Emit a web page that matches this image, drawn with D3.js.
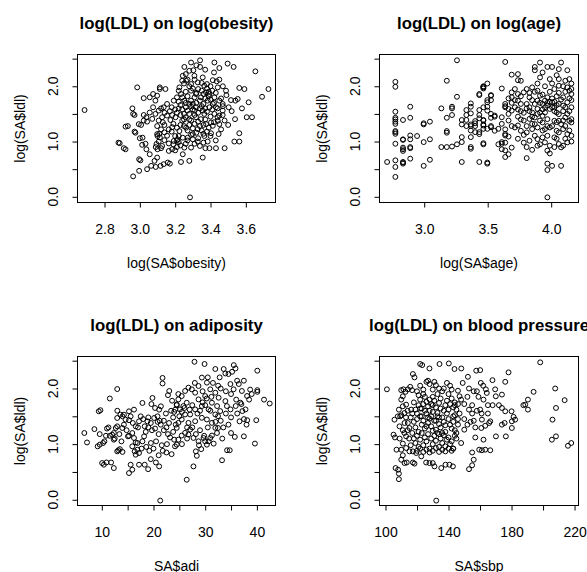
<!DOCTYPE html>
<html><head><meta charset="utf-8">
<script src="https://cdn.jsdelivr.net/npm/d3@7"></script>
<style>
body{margin:0;background:#fff}
svg{display:block}
text{font-family:"Liberation Sans",Arial,Helvetica,sans-serif;fill:#000}
</style>
</head><body>
<svg id="c" width="587" height="572"></svg>
<script>
// ---- data: log(LDL) vs each predictor ----
const obesityPts = [
[2.687,1.57],[2.985,1.98],[2.879,0.98],[2.886,0.97],[2.909,0.88],[2.919,0.86],[2.919,1.27],[2.932,1.28],[2.958,1.60],[2.962,1.50],
[2.97,1.48],[2.962,0.37],[2.996,0.47],[2.996,0.68],[3.003,0.66],[3.022,1.785],[2.97,1.18],[2.975,1.16],[2.994,1.315],[3.007,1.30],
[3.022,1.38],[3.041,1.36],[3.022,1.48],[3.0,1.06],[3.015,1.07],[3.013,0.94],[3.032,0.96],[3.037,0.86],[3.056,0.77],[3.064,0.56],
[3.09,0.54],[3.083,0.65],[3.098,0.71],[3.056,1.80],[3.075,1.86],[3.098,1.83],[3.113,1.98],[3.113,1.95],[3.145,1.95],[3.088,1.74],
[3.075,1.62],[3.056,1.525],[3.037,1.44],[3.07,1.41],[3.088,1.50],[3.107,1.56],[3.135,1.62],[3.154,1.68],[3.192,1.74],[3.18,1.62],
[3.126,1.44],[3.107,1.38],[3.098,1.28],[3.12,1.22],[3.098,1.135],[3.113,1.075],[3.107,1.0],[3.094,0.955],[3.126,0.92],[3.139,1.025],
[3.154,1.105],[3.139,1.165],[3.164,1.22],[3.183,1.26],[3.173,1.39],[3.202,1.44],[3.154,1.47],[3.183,1.48],[3.139,1.30],[3.164,0.965],
[3.192,1.01],[3.183,0.86],[3.164,0.83],[3.158,0.62],[3.17,0.60],[3.135,0.59],[3.117,0.56],[3.041,0.50],
[3.11,1.14],[3.10,1.10],[3.12,0.88],[3.10,0.86],[3.09,0.90],[3.13,1.35],[3.14,1.52],[3.12,1.60],[3.17,1.55],[3.19,1.32],
[3.18,1.18],[3.20,1.10],[3.19,0.95],[3.21,0.90],[3.20,0.84],[3.21,1.02],[3.22,0.99],
[3.252,2.35],[3.29,2.43],[3.341,2.47],[3.341,2.35],[3.303,2.29],[3.422,2.43],[3.45,2.33],[3.497,2.41],[3.531,2.35],[3.654,2.27],
[3.243,2.19],[3.262,2.10],[3.309,2.19],[3.356,2.16],[3.413,2.11],[3.435,2.09],[3.365,2.01],[3.328,2.07],[3.29,2.04],[3.224,1.98],
[3.441,1.98],[3.488,1.92],[3.563,1.97],[3.592,1.95],[3.728,1.95],[3.692,1.81],[3.616,1.71],[3.554,1.77],[3.541,1.74],[3.516,1.75],
[3.469,1.68],[3.45,1.74],[3.422,1.80],[3.394,1.86],[3.375,1.89],[3.413,1.68],[3.431,1.62],[3.469,1.56],[3.503,1.62],[3.578,1.60],
[3.635,1.44],[3.605,1.44],[3.539,1.405],[3.45,1.47],[3.422,1.50],[3.469,1.48],[3.441,1.375],[3.403,1.345],[3.413,1.285],[3.45,1.315],
[3.446,1.135],[3.403,1.15],[3.563,1.15],[3.563,1.0],[3.535,1.0],[3.431,0.88],[3.394,0.88],[3.371,0.88],[3.356,0.71],[3.328,1.0],
[3.29,0.89],[3.252,0.89],[3.28,0.65],[3.233,0.63],[3.284,-0.01],[3.243,0.77],[3.214,1.04],[3.224,1.19],[3.262,1.25],[3.29,1.38],
[3.318,1.44],[3.346,1.405],[3.375,1.315],[3.328,1.225],[3.30,1.135],[3.271,1.07],[3.243,1.07],[3.365,1.10],[3.384,1.0],[3.356,1.56],
[3.318,1.62],[3.28,1.68],[3.252,1.74],[3.233,1.86],[3.29,1.92],[3.318,1.86],[3.346,1.80],[3.384,1.74],[3.394,1.62],[3.365,1.50],
[3.21,1.52],[3.22,1.60],[3.23,1.66],[3.24,1.58],[3.25,1.50],[3.26,1.62],[3.27,1.56],[3.22,1.72],[3.24,1.80],[3.26,1.90],
[3.25,2.05],[3.27,2.12],[3.28,2.00],[3.30,1.96],[3.31,1.80],[3.32,1.70],[3.33,1.95],[3.35,1.92],[3.36,1.86],[3.37,1.78],
[3.38,1.96],[3.39,1.90],[3.36,1.68],[3.34,1.60],[3.33,1.52],[3.31,1.48],[3.30,1.58],[3.29,1.64],[3.28,1.50],[3.26,1.44],
[3.24,1.38],[3.23,1.30],[3.25,1.28],[3.27,1.20],[3.28,1.30],[3.30,1.24],[3.31,1.32],[3.32,1.16],[3.34,1.28],[3.35,1.20],
[3.37,1.40],[3.38,1.54],[3.40,1.76],[3.41,1.92],[3.42,1.70],[3.40,1.45],[3.42,1.35],[3.39,1.25],[3.36,1.14],[3.33,1.06],
[3.30,1.04],[3.26,0.96],[3.23,0.93],[3.22,1.10],[3.21,1.25],[3.20,1.58],[3.21,1.80],[3.22,1.92],[3.24,2.10],[3.31,2.12],
[3.35,2.06],[3.38,2.04],[3.40,2.00],[3.43,1.88],[3.44,1.60],[3.46,1.78],[3.47,1.64],[3.44,1.44],[3.46,1.22],[3.48,1.38],
[3.27,1.82],[3.29,1.74],[3.32,1.88],[3.34,1.74],[3.35,1.64],[3.37,1.60],[3.39,1.82],[3.41,1.58],[3.30,1.68],[3.26,1.70],
[3.23,1.48],[3.25,1.40],[3.28,1.40],[3.31,1.56],[3.33,1.36],[3.36,1.30],[3.38,1.18],[3.29,1.12],[3.27,1.02],[3.31,0.96],
[3.34,0.92],[3.36,0.98],[3.40,1.10],[3.43,1.02],[3.48,0.88],[3.50,1.30],[3.52,1.55],[3.49,1.84],[3.47,2.00],[3.45,2.12],
[3.42,2.25],[3.37,2.30],[3.32,2.38],[3.28,2.28],[3.26,2.22]
];

const agePts = [
[2.708,0.63],
[2.773,2.08],[2.773,1.99],[2.773,1.54],[2.773,1.43],[2.773,1.40],[2.773,1.36],[2.773,1.17],[2.773,1.14],[2.773,0.96],[2.773,0.66],
[2.773,0.54],[2.773,0.36],[2.773,1.32],[2.773,1.19],
[2.833,1.39],[2.833,0.89],[2.833,0.83],[2.833,0.86],[2.833,0.63],[2.833,0.60],[2.833,1.04],[2.833,1.03],[2.833,0.62],
[2.890,1.63],[2.890,1.43],[2.890,1.11],[2.890,1.04],[2.890,0.90],[2.890,0.69],[2.890,0.88],
[2.944,1.10],
[2.996,1.33],[2.996,1.31],[2.996,0.99],[2.996,0.56],
[3.045,1.36],[3.045,1.04],[3.045,0.67],
[3.135,1.60],[3.135,0.90],
[3.178,2.10],[3.178,1.43],[3.178,1.19],[3.178,1.16],[3.178,0.90],
[3.219,1.60],[3.219,1.63],[3.219,0.91],[3.219,1.48],
[3.258,2.47],[3.258,1.81],[3.258,0.95],
[3.296,1.39],[3.296,1.31],[3.296,1.08],[3.296,0.63],[3.296,0.99],
[3.332,1.48],[3.332,1.57],[3.332,1.39],[3.332,1.28],
[3.367,1.69],[3.367,1.63],[3.367,1.51],[3.367,1.20],[3.367,1.08],[3.367,0.90],[3.367,0.87],[3.367,1.28],[3.367,1.31],
[3.401,1.37],[3.401,1.33],[3.401,1.28],[3.401,1.17],
[3.434,1.84],[3.434,1.57],[3.434,1.48],[3.434,1.42],[3.434,1.17],[3.434,0.63],
[3.466,2.00],[3.466,1.96],[3.466,1.39],[3.466,1.31],[3.466,1.23],[3.466,0.95],
[3.497,2.05],[3.497,1.63],[3.497,1.75],[3.497,1.23],[3.497,0.60],
[3.526,1.84],[3.526,1.75],[3.526,1.28],[3.526,1.43],
[3.555,1.45],[3.584,1.23],
[3.611,1.96],[3.611,0.96],[3.611,0.99],
[3.638,2.44],[3.638,1.64],[3.638,1.62],[3.638,1.11],[3.638,0.84],[3.638,0.72],
[3.871,2.35],[3.871,2.29],[3.912,2.43],[3.970,2.35],[4.007,2.35],[4.060,2.31],[4.127,2.29],[4.078,2.43],[3.689,2.21],[3.738,2.22],
[3.738,2.11],[3.761,2.10],[3.912,2.16],[3.989,2.13],[4.060,2.13],[4.111,2.10],[4.143,2.13],[4.060,2.01],[4.127,1.98],[4.143,1.92],
[4.159,1.86],[3.664,1.59],[3.638,1.68],[3.689,1.80],[3.689,1.89],[3.714,1.95],[3.738,1.86],[3.738,1.74],[3.761,1.68],[3.807,1.68],
[3.829,1.62],[3.689,1.56],[3.664,1.50],[3.611,1.44],[3.611,1.32],[3.638,1.22],[3.638,1.135],[3.664,1.09],[3.638,0.98],[3.584,0.95],
[3.611,0.86],[3.689,0.89],[3.664,0.77],[3.807,0.70],[3.714,1.255],[3.738,1.29],[3.784,1.38],[3.829,1.41],[3.761,1.195],[3.807,1.165],
[3.850,1.225],[3.871,1.315],[3.871,1.435],[3.850,1.525],[3.892,1.59],[3.871,1.68],[3.892,1.74],[3.829,1.80],[3.784,1.89],[3.850,1.98],
[3.892,1.92],[3.912,1.83],[3.951,1.74],[3.970,1.80],[4.007,1.71],[3.970,1.65],[3.989,1.59],[4.025,1.62],[4.060,1.68],[4.094,1.65],
[4.127,1.71],[4.159,1.62],[4.043,1.525],[4.060,1.495],[4.111,1.435],[4.143,1.375],[4.159,1.345],[4.159,1.405],[4.078,1.315],[4.060,1.375],
[4.025,1.375],[3.970,1.405],[3.932,1.465],[3.912,1.525],[3.951,1.525],[3.932,1.345],[3.892,1.255],[3.951,1.225],[3.989,1.255],[4.043,1.195],
[4.060,1.165],[4.094,1.225],[4.127,1.135],[4.159,1.105],[4.127,0.985],[4.094,0.925],[4.078,0.895],[4.060,0.955],[4.025,1.075],[3.970,1.105],
[3.932,1.075],[3.892,1.045],[3.871,1.105],[3.829,1.015],[3.892,0.925],[3.951,0.985],[3.989,0.925],[3.970,0.835],[3.989,0.785],[3.970,0.60],
[4.007,0.56],[4.078,0.56],[3.970,0.485],[3.970,-0.01],
[3.466,1.99],[3.466,1.98],[3.434,1.86],[3.526,1.83],[3.497,1.71],[3.466,1.62],[3.497,1.56],[3.526,1.50],[3.555,1.47],[3.466,1.38],
[3.466,1.29],[3.526,1.26],[3.555,1.195],[3.434,1.135],[3.466,0.97],[3.497,0.62],
[3.970,1.70],[4.007,1.78],[4.025,1.72],[4.043,1.66],[4.043,1.82],[4.078,1.76],[4.094,1.80],[4.111,1.62],[4.111,1.90],[4.143,1.78],
[4.143,1.55],[4.127,1.50],[4.094,1.55],[4.025,1.55],[4.007,1.62],[3.989,1.72],[3.951,1.62],[3.932,1.68],[3.932,1.58],[3.912,1.70],
[3.892,1.50],[3.850,1.45],[3.829,1.55],[3.807,1.60],[3.784,1.52],[3.761,1.55],[3.738,1.45],[3.714,1.62],[3.714,1.75],[3.761,1.82],
[3.807,1.95],[3.829,1.88],[3.850,1.75],[3.892,2.05],[3.932,2.25],[3.951,2.00],[4.007,2.05],[4.043,2.20],[4.094,2.00],[4.159,2.05],
[4.159,1.95],[4.159,1.75],[4.143,1.20],[4.111,1.28],[4.094,1.38],[4.043,1.35],[4.007,1.28],[3.970,1.28],[3.932,1.20],[3.912,1.38],
[3.850,1.32],[3.807,1.28],[3.784,1.12],[3.761,1.40],[3.738,1.58],[3.689,1.70],[3.664,1.78],[3.664,1.38],[3.689,1.28],[3.738,1.05],
[3.784,0.98],[3.807,0.90],[3.850,0.85],[3.912,0.95],[4.025,0.90],[4.111,1.05],[4.159,1.00],[4.043,1.05],[3.932,1.85],[3.871,1.90],
[3.989,1.90],[4.025,1.95],[4.060,1.88]
];

const adiPts = [
[6.62,1.20],[7.14,1.03],[8.57,1.27],[9.6,1.18],[9.2,0.96],[9.6,0.99],[10.25,1.02],[10.51,1.05],[9.41,1.59],[9.73,1.61],
[11.55,1.82],[12.98,1.99],[10.06,0.66],[10.4,0.63],[10.9,0.67],[11.8,0.67],[12.33,0.57],[12.0,1.17],[12.33,1.20],[11.55,1.15],
[12.98,1.47],[13.6,1.53],[14.0,1.50],[14.28,1.53],[14.6,1.44],[12.98,1.32],[12.7,1.29],[12.5,1.10],[12.98,0.87],[13.5,0.91],
[13.2,0.89],[12.33,1.08],[13.96,1.29],[14.28,1.35],[15.26,1.59],[15.26,1.43],[15.58,1.50],[16.23,1.62],[17.53,1.50],[17.2,1.41],
[16.56,1.32],[15.9,1.20],[15.26,1.15],[15.06,1.14],[16.23,1.11],[16.56,1.03],[15.9,0.96],[16.88,0.90],[16.36,0.87],[17.2,0.84],
[16.56,0.81],[17.86,1.05],[18.18,1.14],[17.86,1.74],[19.8,1.83],[15.26,0.48],[15.9,0.54],[15.58,0.63],[17.2,0.63],[18.3,0.63],
[18.96,0.55],[19.48,0.73],[20.46,0.67],[21.1,0.60],[21.3,-0.015],[18.83,1.41],[19.48,1.38],[20.13,1.47],[20.78,1.50],[21.1,1.62],
[21.43,1.68],[21.75,2.19],[21.75,2.09],[23.05,1.955],
[19.0,1.30],[19.7,1.25],[20.3,1.28],[20.8,1.40],[21.4,1.35],[22.0,1.42],[22.5,1.30],[23.0,1.38],[22.4,1.55],[23.4,1.60],
[23.8,1.48],[24.0,1.58],[22.0,1.25],[21.0,1.18],[20.5,1.05],[19.5,1.02],[18.6,0.95],[19.2,0.88],[20.0,0.92],[21.6,0.98],
[22.6,1.0],[21.8,0.88],[23.2,1.12],[23.8,1.22],[22.8,1.18],[18.3,1.32],[17.0,1.30],[16.0,1.38],[14.8,1.25],[13.4,1.18],
[18.0,1.45],[19.0,1.48],[13.0,1.6],[11.3,1.30],[10.8,1.15],[11.0,1.28],[14.0,0.86],[13.8,1.05],[16.9,1.02],[17.7,0.92],
[20.3,1.65],[19.6,1.72],[24.3,1.35],[24.5,1.70],[23.6,1.78],[24.8,1.9],[22.8,1.88],[21.2,1.42],[18.5,1.22],
[27.93,2.48],[29.88,2.44],[31.96,2.35],[33.58,2.35],[33.9,2.27],[35.53,2.42],[35.86,2.36],[40.08,2.32],[33.26,0.71],[34.23,0.89],
[34.75,0.89],[39.62,1.01],[37.48,1.14],[35.73,1.13],[36.64,1.41],[38.13,1.43],[39.88,1.43],[41.38,1.80],[42.48,1.73],[40.08,1.97],
[40.08,1.94],[37.48,2.14],[36.5,2.08],[36.18,2.14],[34.88,2.08],[35.5,1.985],[37.1,1.955],[38.1,1.865],[38.5,1.80],[36.8,1.745],
[35.9,1.685],[37.2,1.594],[37.8,1.624],[34.9,1.624],[34.2,1.684],[33.9,1.774],[32.6,1.834],[31.96,1.924],[30.98,1.985],[30.33,2.105],
[29.36,2.196],[28.71,2.045],[28.06,1.924],[27.41,1.985],[26.76,2.015],[26.11,1.955],[25.46,1.864],[24.81,1.804],[24.49,1.714],[25.13,1.624],
[25.78,1.684],[26.43,1.744],[28.71,1.804],[30.0,1.864],[31.3,1.744],[32.3,1.684],[32.9,1.594],[31.96,1.533],[30.66,1.624],[29.36,1.684],
[28.06,1.624],[27.09,1.533],[26.11,1.533],[25.46,1.443],[24.81,1.382],[24.49,1.292],[26.76,1.382],[28.06,1.412],[29.36,1.473],[30.33,1.443],
[31.3,1.382],[31.96,1.292],[32.48,1.503],
[26.43,0.36],[27.73,0.60],[28.38,0.79],[28.19,0.87],[29.23,0.91],[30.33,0.99],[30.66,1.05],[30.98,1.11],[31.3,1.154],[32.28,1.2],
[32.48,1.29],[31.64,1.009],[30.0,1.051],[29.68,1.111],[28.71,1.051],[27.73,1.111],[26.76,1.172],[27.09,1.262],[26.11,1.202],[25.46,1.154],
[24.81,1.081],[24.49,0.99],[24.16,0.96],
[29.0,1.6],[29.5,1.75],[28.5,1.55],[27.5,1.7],[27.0,1.62],[26.0,1.65],[25.5,1.58],[24.2,1.62],[25.0,1.50],[26.5,1.30],
[27.5,1.30],[28.2,1.18],[29.0,1.25],[30.5,1.30],[33.0,1.42],[34.0,1.55],[35.0,1.48],[33.5,1.30],[34.5,1.35],[35.0,1.20],
[36.0,1.80],[37.0,1.72],[35.0,1.90],[34.0,1.95],[33.0,2.00],[32.5,2.05],[31.5,2.10],[30.5,2.20],[28.0,2.10],[29.5,1.95],
[30.0,1.70],[31.0,1.60],[32.0,1.40],[26.5,1.10],[25.5,1.00],[22.5,0.85],[21.0,0.80],[23.5,0.82],[24.0,1.08],[28.8,0.98],
[29.8,1.15],[33.3,1.10],[38.0,1.35],[37.5,1.45],[36.2,1.55],[39.0,1.90],[38.7,1.98],[35.2,2.30],[34.5,2.26],[32.8,2.20],
[31.2,1.85],[30.3,1.82]
];

const sbpPts = [
[100.9,1.985],[105.7,1.44],[105.1,1.17],[107.8,1.50],[106.4,0.57],[108.0,0.54],[108.5,0.47],[108.5,0.37],[110,0.72],[112.1,0.66],
[113.5,0.67],[117.4,0.67],[118.4,0.65],[122.0,2.44],[123.3,2.42],[127.9,2.36],[117.4,2.26],[118.4,2.20],[115.7,2.03],[114.2,1.985],
[112.7,1.94],[111.4,1.985],[110,1.97],[116.9,1.97],[110,1.80],[111,1.86],[109.3,1.50],[112.1,1.56],[116.3,1.62],[113.1,1.71],
[111,1.68],[108.5,1.62],[108.9,1.32],[112.1,1.38],[114.2,1.38],[115.2,1.29],[113.1,1.14],[111,1.01],[113.1,0.93],[115.2,0.87],
[117.4,0.87],[119.5,0.84],[122.7,0.78],[125.8,0.67],[127.9,0.66],[131.1,0.60],[130.0,0.66],[132.2,-0.015],[135.4,0.57],[138.1,0.63],
[140.6,0.63],[142.8,0.60],[134.3,2.44],[140.2,2.45],[143.8,2.35],[148.1,2.36],[152.3,2.21],[157.6,2.32],
[149,2.1],[153,2.0],[146,1.96],[156,1.95],[152,1.85],[148,1.80],[144,1.75],[150,1.72],[155,1.70],[158,1.60],
[153,1.62],[147,1.55],[143,1.50],[150,1.45],[156,1.42],[152,1.35],[146,1.35],[144,1.25],[150,1.26],[157,1.30],
[154,1.40],[155,1.55],[159,1.85],[158,1.95],[145,1.10],[148,1.02],[143,0.92],[142,0.88],[155,0.85],[156,0.72],
[155,0.62],[153,0.55],[157,1.12],
[198.2,2.47],[178.1,2.29],[176,2.12],[167.9,2.15],[160.1,2.33],[194,1.94],[190.4,1.80],[188.7,1.71],[187.5,1.70],[190.4,1.62],
[207.7,2.00],[213.7,1.79],[208.2,1.65],[206,1.44],[205.6,1.08],[208.2,1.14],[215.8,0.97],[217.9,1.02],[173.9,1.89],[169.6,1.985],
[170.0,1.86],[163.7,1.985],[168,1.70],[172,1.70],[173.9,1.65],[176,1.59],[180,1.59],[182.3,1.44],[180.2,1.41],[181.3,1.49],
[180.2,1.29],[173.9,1.35],[175.6,1.38],[176.4,1.14],[170.1,1.14],[165.8,1.38],[166.5,1.41],[163.3,1.33],[161.2,1.44],[160.8,1.29],
[160.1,1.62],[162.2,1.80],[164.3,1.92],[162.2,1.08],[163.3,0.90],[166.5,0.89],[161.2,0.89],[159.5,0.90],[160.5,2.10],[162,2.05],
[165,1.70],[161,1.55],[165,1.55],
[118,1.75],[119,1.62],[120,1.55],[121,1.70],[122,1.80],[123,1.64],[124,1.72],[125,1.85],[126,1.76],[127,1.68],
[128,1.80],[129,1.72],[130,1.85],[131,1.78],[132,1.66],[133,1.90],[134,1.74],[135,1.82],[136,1.95],[137,2.00],
[138,1.70],[139,1.78],[140,1.90],[141,1.72],[142,1.82],[143,1.66],[144,1.70],
[118,1.40],[119,1.30],[120,1.45],[121,1.22],[122,1.50],[123,1.35],[124,1.42],[125,1.28],[126,1.55],[127,1.38],
[128,1.46],[129,1.32],[130,1.58],[131,1.42],[132,1.26],[133,1.50],[134,1.36],[135,1.30],[136,1.48],[137,1.40],
[138,1.22],[139,1.55],[140,1.45],[141,1.35],[142,1.28],[143,1.40],[144,1.52],
[118,1.10],[119,1.02],[120,1.15],[121,0.95],[122,1.08],[123,1.20],[124,0.98],[125,1.12],[126,1.05],[127,1.18],
[128,0.92],[129,1.10],[130,1.00],[131,1.15],[132,1.06],[133,1.20],[134,0.95],[135,1.10],[136,1.02],[137,1.16],
[138,0.96],[139,1.08],[140,1.12],[141,1.00],[142,1.05],[143,0.92],[144,1.15],
[120,0.88],[122,0.92],[124,0.86],[126,0.90],[128,0.85],[130,0.88],[132,0.93],[134,0.86],[136,0.90],[138,0.87],[140,0.92],
[120,1.95],[122,2.05],[124,1.98],[126,2.12],[128,2.08],[130,1.98],[132,2.06],[134,2.00],[131,2.12],[127,2.14],
[124,1.90],[135,1.64],[129,1.50],[125,1.60],[133,1.56],[137,1.60],[130,1.24],[126,1.32],[134,1.18],[138,1.34],
[122,1.64],[128,1.60],[132,1.42],[136,1.20],[130,1.70],[134,1.48],[127,1.48],[123,1.50],[121,1.88],[117,1.20],
[116,1.48],[115,1.10],[116,0.98],[114,1.60],[117,1.55],[114,1.25],[113,1.48],[112,1.20],[111,1.25],[110,1.52],
[109,1.10],[107,0.90],[106,1.12],[110,0.90],[111,0.80],[145,1.62],[146,1.72],[147,1.86],[146,1.45],[145,1.20],
[140,1.62],[142,1.98],[141,2.05],[139,2.10]
];

// ---- tick values / labels ----
const yTicks = [0, 0.5, 1, 1.5, 2, 2.5];
const yTickLabels = ["0.0", "", "1.0", "", "2.0", ""];
const obesityTicks = [2.8, 3.0, 3.2, 3.4, 3.6];
const obesityTickLabels = ["2.8", "3.0", "3.2", "3.4", "3.6"];
const ageTicks = [3.0, 3.5, 4.0];
const ageTickLabels = ["3.0", "3.5", "4.0"];
const adiTicks = [10, 15, 20, 25, 30, 35, 40];
const adiTickLabels = ["10", "", "20", "", "30", "", "40"];
const sbpTicks = [100, 120, 140, 160, 180, 200, 220];
const sbpTickLabels = ["100", "", "140", "", "180", "", "220"];

const titles = ["log(LDL) on log(obesity)", "log(LDL) on log(age)", "log(LDL) on adiposity", "log(LDL) on blood pressure"];
const xLabels = ["log(SA$obesity)", "log(SA$age)", "SA$adi", "SA$sbp"];
const yLabel = "log(SA$ldl)";

// ---- layout ----
const panels = [
  {pts: obesityPts, ticks: obesityTicks, labs: obesityTickLabels, xdom: [2.647, 3.768], box: {l: 77.5, r: 275.5, t: 54.5, b: 202.5}},
  {pts: agePts, ticks: ageTicks, labs: ageTickLabels, xdom: [2.648, 4.215], box: {l: 379.5, r: 578.5, t: 54.5, b: 202.5}},
  {pts: adiPts, ticks: adiTicks, labs: adiTickLabels, xdom: [5.30, 43.6], box: {l: 77.5, r: 275.5, t: 356.5, b: 505.5}},
  {pts: sbpPts, ticks: sbpTicks, labs: sbpTickLabels, xdom: [96.2, 222.5], box: {l: 379.5, r: 578.5, t: 356.5, b: 505.5}}
];
const yDom = [-0.103, 2.575];

const svg = d3.select("#c");
svg.append("rect").attr("width", 587).attr("height", 572).attr("fill", "#fff");

panels.forEach((p, i) => {
  const B = p.box;
  const x = d3.scaleLinear().domain(p.xdom).range([B.l, B.r]);
  const y = d3.scaleLinear().domain(yDom).range([B.b, B.t]);
  const g = svg.append("g");

  // points
  g.append("g").selectAll("circle").data(p.pts).join("circle")
    .attr("cx", d => x(d[0])).attr("cy", d => y(d[1])).attr("r", 2.45)
    .attr("fill", "none").attr("stroke", "#000").attr("stroke-width", 1);

  // box
  g.append("rect").attr("x", B.l).attr("y", B.t).attr("width", B.r - B.l).attr("height", B.b - B.t)
    .attr("fill", "none").attr("stroke", "#000").attr("stroke-width", 1);

  // x axis
  const xa = g.append("g").attr("transform", `translate(0,${B.b})`)
    .call(d3.axisBottom(x).tickValues(p.ticks).tickFormat((d, k) => p.labs[k]).tickSize(5).tickPadding(17));
  xa.select(".domain").remove();
  xa.selectAll("line").attr("stroke", "#000");
  xa.selectAll("text").attr("font-size", 14).attr("font-family", '"Liberation Sans",Arial,sans-serif').attr("fill", "#000");

  // y axis ticks
  const ya = g.append("g").attr("transform", `translate(${B.l},0)`)
    .call(d3.axisLeft(y).tickValues(yTicks).tickFormat("").tickSize(5));
  ya.select(".domain").remove();
  ya.selectAll("line").attr("stroke", "#000");
  // rotated y tick labels
  g.append("g").selectAll("text").data(yTicks.map((v, k) => [v, yTickLabels[k]]).filter(d => d[1] !== ""))
    .join("text")
    .attr("x", B.l - 19).attr("y", d => y(d[0]))
    .attr("transform", d => `rotate(-90,${B.l - 19},${y(d[0])})`)
    .attr("text-anchor", "middle").attr("font-size", 14).text(d => d[1]);

  // titles and axis labels
  g.append("text").attr("x", (B.l + B.r) / 2).attr("y", B.t - 26)
    .attr("text-anchor", "middle").attr("font-size", 16.8).attr("font-weight", "bold").text(titles[i]);
  g.append("text").attr("x", (B.l + B.r) / 2).attr("y", B.b + 65)
    .attr("text-anchor", "middle").attr("font-size", 14).text(xLabels[i]);
  const yx = B.l - 53, yy = (B.t + B.b) / 2;
  g.append("text").attr("x", yx).attr("y", yy).attr("transform", `rotate(-90,${yx},${yy})`)
    .attr("text-anchor", "middle").attr("font-size", 14).text(yLabel);
});
</script>
</body></html>
